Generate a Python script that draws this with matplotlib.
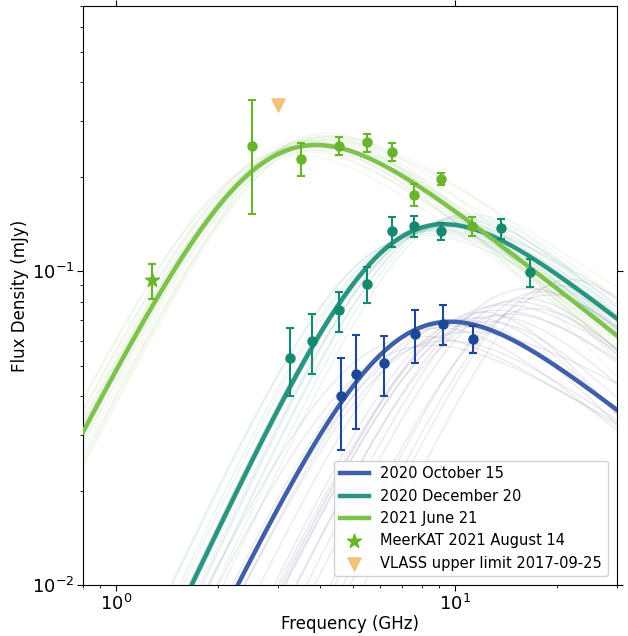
import numpy as np
import matplotlib.pyplot as plt

plt.rcParams['mathtext.fontset'] = 'cm'
plt.rcParams['font.family'] = ['DejaVu Sans']

# --- measured points (GHz, mJy) ---
oct_freq = [4.6, 5.1, 6.2, 7.65, 9.2, 11.3]
oct_flux = [0.040, 0.047, 0.051, 0.063, 0.068, 0.061]
oct_err = [0.013, 0.0155, 0.011, 0.012, 0.010, 0.006]

dec_freq = [3.27, 3.78, 4.54, 5.52, 6.54, 7.6, 9.12, 13.7, 16.7]
dec_flux = [0.053, 0.060, 0.075, 0.091, 0.134, 0.139, 0.134, 0.137, 0.099]
dec_err = [0.013, 0.013, 0.011, 0.012, 0.015, 0.011, 0.008, 0.010, 0.010]

jun_freq = [2.52, 3.51, 4.54, 5.52, 6.54, 7.6, 9.12, 11.2]
jun_flux = [0.251, 0.228, 0.251, 0.257, 0.240, 0.175, 0.197, 0.139]
jun_err = [0.099, 0.027, 0.016, 0.017, 0.016, 0.014, 0.009, 0.010]

meerkat_freq = [1.28]
meerkat_flux = [0.0935]
meerkat_err = [0.012]

vlass_freq = [3.0]
vlass_flux = [0.339]

# --- best fits: peak freq, peak flux, thick index, thin index ---
fit_peak = {'oct': (9.7, 0.069, 2.2, -0.85),
            'dec': (9.3, 0.141, 2.3, -0.85),
            'jun': (3.9, 0.252, 2.1, -0.85)}

# --- posterior draws ---
oct_samp_nu = [8.0, 9.0, 10.5, 12.0, 14.0, 16.0, 18.0, 20.0, 11.0, 13.0, 9.5, 15.0, 17.0, 22.0, 10.0, 12.5, 8.5, 19.0, 14.5, 11.5, 16.5, 13.5]
oct_samp_s = [0.062, 0.066, 0.070, 0.074, 0.078, 0.082, 0.086, 0.090, 0.064, 0.072, 0.060, 0.080, 0.076, 0.094, 0.067, 0.069, 0.058, 0.084, 0.073, 0.071, 0.088, 0.075]
oct_samp_a2 = [-0.7, -0.9, -1.1, -1.3, -0.8, -1.2, -1.4, -1.5, -0.6, -1.0, -0.75, -0.95, -1.25, -1.6, -0.85, -1.05, -0.65, -1.35, -0.9, -1.15, -1.0, -0.8]

dec_samp_nu = [8.4, 8.8, 9.0, 9.2, 9.5, 9.8, 10.2, 10.6, 8.6, 9.4, 9.9, 10.4, 8.2, 9.1, 9.6, 11.0, 8.9, 10.0]
dec_samp_s = [0.132, 0.136, 0.140, 0.143, 0.138, 0.145, 0.147, 0.150, 0.134, 0.141, 0.139, 0.148, 0.130, 0.137, 0.144, 0.152, 0.135, 0.142]
dec_samp_a2 = [-0.7, -0.8, -0.9, -0.85, -0.75, -0.95, -1.0, -1.05, -0.78, -0.88, -0.7, -0.92, -0.72, -0.82, -0.98, -1.1, -0.86, -0.8]

jun_samp_nu = [3.5, 3.7, 3.8, 3.9, 4.0, 4.1, 4.3, 3.6, 4.2, 3.85, 3.95, 4.4, 3.4, 4.05, 3.75, 4.15, 3.65, 4.5, 3.9, 4.0]
jun_samp_s = [0.245, 0.26, 0.255, 0.25, 0.265, 0.27, 0.26, 0.24, 0.275, 0.258, 0.262, 0.27, 0.235, 0.25, 0.248, 0.268, 0.252, 0.265, 0.243, 0.256]
jun_samp_a2 = [-0.8, -0.9, -0.85, -0.75, -0.95, -1.0, -0.7, -0.8, -1.05, -0.9, -0.85, -0.95, -0.8, -0.7, -0.88, -1.1, -0.82, -0.78, -0.92, -0.86]

labels = ['2020 October 15', '2020 December 20', '2021 June 21']
line_colors = ['#3f60a8', '#2a9481', '#7ec24e']
point_colors = ['#1d4896', '#14896f', '#69b42b']
samp_colors = ['#7a6a9e', '#2a9481', '#8cc660']


def sed(nu, nu_pk, s_pk, a1, a2):
    # smoothly broken power law, scaled so the maximum is s_pk at nu_pk
    xb = (-a2 / a1) ** (1.0 / (a2 - a1))
    f = lambda x: 1.0 / (x ** (-a1) + x ** (-a2))
    return s_pk * f(nu / nu_pk * xb) / f(xb)


nu = np.logspace(np.log10(0.8), np.log10(30), 400)

fig = plt.figure(figsize=(6.28, 6.36), dpi=100)
ax = fig.add_axes([0.132, 0.080, 0.850, 0.911])

keys = ['oct', 'dec', 'jun']
samples = [(oct_samp_nu, oct_samp_s, oct_samp_a2, 0.15),
           (dec_samp_nu, dec_samp_s, dec_samp_a2, 0.10),
           (jun_samp_nu, jun_samp_s, jun_samp_a2, 0.11)]
for key, (sn, ss, sa, al), c in zip(keys, samples, samp_colors):
    a1 = fit_peak[key][2]
    for a, b, d in zip(sn, ss, sa):
        ax.plot(nu, sed(nu, a, b, a1, d), color=c, lw=1, alpha=al, zorder=1)

for key, lab, c in zip(keys, labels, line_colors):
    p, s, a1, a2 = fit_peak[key]
    ax.plot(nu, sed(nu, p, s, a1, a2), color=c, lw=3.2, label=lab, zorder=3)

ebkw = dict(fmt='o', ms=6.5, capsize=3, elinewidth=1.5, capthick=1.5, zorder=4)
ax.errorbar(oct_freq, oct_flux, yerr=oct_err, color=point_colors[0], **ebkw)
ax.errorbar(dec_freq, dec_flux, yerr=dec_err, color=point_colors[1], **ebkw)
ax.errorbar(jun_freq, jun_flux, yerr=jun_err, color=point_colors[2], **ebkw)
ax.errorbar(meerkat_freq, meerkat_flux, yerr=meerkat_err, fmt='none', ecolor=point_colors[2],
            capsize=3, elinewidth=1.5, capthick=1.5, zorder=4)
ax.scatter(meerkat_freq, meerkat_flux, marker='*', s=110, color=point_colors[2], zorder=5,
           label='MeerKAT 2021 August 14')
ax.scatter(vlass_freq, vlass_flux, marker='v', s=90, color='#f0c27a', zorder=5,
           label='VLASS upper limit 2017-09-25')

ax.set_xscale('log')
ax.set_yscale('log')
ax.set_xlim(0.8, 30)
ax.set_ylim(0.01, 0.7)
ax.set_xlabel('Frequency (GHz)', fontsize=12, labelpad=1)
ax.set_ylabel('Flux Density (mJy)', fontsize=12, labelpad=2)
ax.tick_params(which='both', direction='out', labelsize=13, pad=2)
ax.tick_params(which='major', length=4, top=True, right=True)
ax.tick_params(which='minor', length=2.5)
ax.legend(loc='lower right', fontsize=10.5, framealpha=0.9, borderaxespad=0.6)

plt.savefig('out.png', dpi=100)
